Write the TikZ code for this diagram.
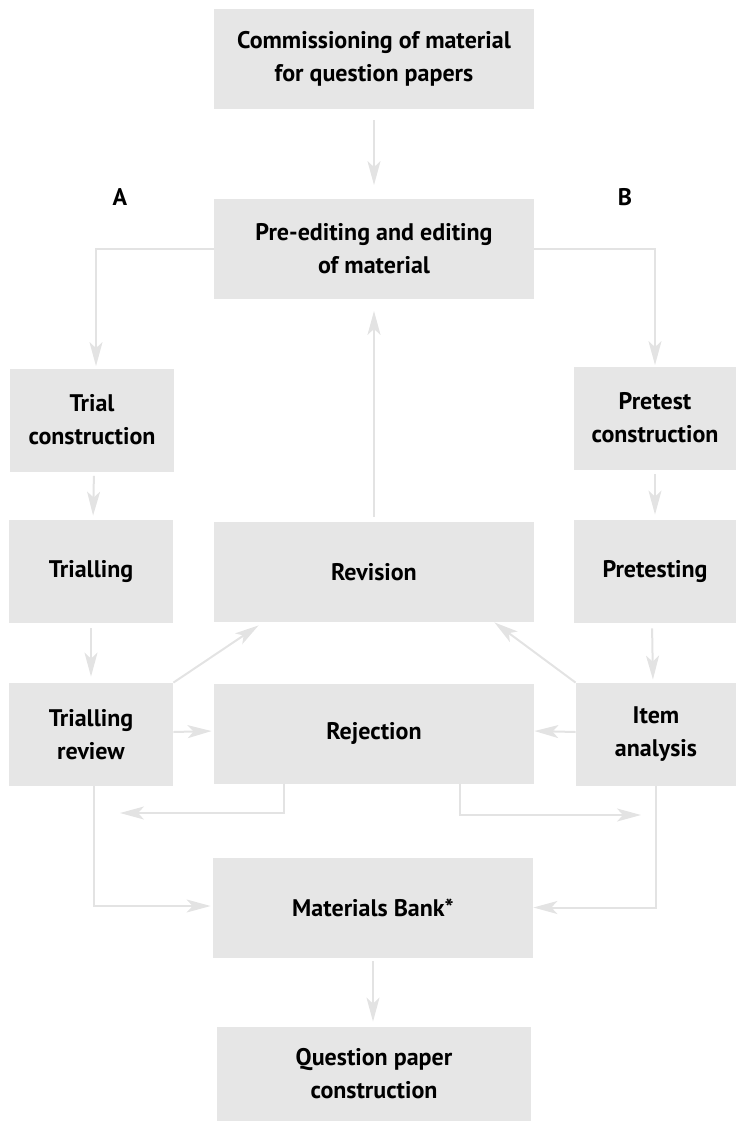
\documentclass[tikz,border=0pt]{standalone}
\usepackage{fontspec}
\setmainfont{PT Sans}
\usetikzlibrary{arrows.meta}
\definecolor{boxgray}{HTML}{E6E6E6}
\definecolor{linegray}{HTML}{E3E3E3}
\begin{document}
\begin{tikzpicture}[x=0.5pt,y=-0.5pt,
  box/.style={fill=boxgray, draw=none, align=center, inner sep=0pt,
    font=\bfseries\fontsize{12}{16.5}\selectfont},
  cbox/.style={box, minimum width=160pt, minimum height=50pt},
  sbox/.style={box, minimum width=82pt, minimum height=51.5pt},
  arr/.style={draw=linegray, line width=1pt,
    -{Stealth[length=12pt,width=6.5pt,inset=3pt]}},
  lab/.style={font=\bfseries\fontsize{12}{14}\selectfont, inner sep=0pt}]
\useasboundingbox (0,0) rectangle (736,1121);
% boxes
\node[cbox] (comm) at (374,59) {Commissioning of material\\for question papers};
\node[cbox] (pre) at (374,248.5) {Pre-editing and editing\\of material};
\node[sbox] (trial) at (92,420) {Trial\\construction};
\node[sbox, minimum width=81pt] (pretest) at (655,418) {Pretest\\construction};
\node[sbox] (trialling) at (91,571.5) {Trialling};
\node[cbox] (revision) at (374,572) {Revision};
\node[sbox, minimum width=81pt] (pretesting) at (655,571.5) {Pretesting};
\node[sbox] (review) at (91,734.5) {Trialling\\review};
\node[cbox] (rejection) at (374,733.5) {Rejection};
\node[sbox, minimum width=80pt] (item) at (656,734.5) {Item\\analysis};
\node[cbox] (bank) at (373,907.5) {Materials Bank*};
\node[cbox, minimum width=157pt, minimum height=47pt] (qp) at (374,1074) {Question paper\\construction};
% labels
\node[lab] (A) at (120,197) {A};
\node[lab] (B) at (625,197) {B};
% free ends
\coordinate (rejL) at (120,813);
\coordinate (rejR) at (641,815);
% connectors
\draw[arr, shorten <=5.5pt, shorten >=6.5pt] (comm) -- (pre);
\draw[arr, shorten >=1pt] (pre.west) -| ([xshift=2pt]trial.north);
\draw[arr, shorten >=0.5pt] (pre.east) -| (pretest.north);
\draw[arr, shorten <=2pt, shorten >=2pt] ([xshift=1pt]trial.south) -- ([xshift=1pt]trialling.north);
\draw[arr, shorten <=2pt, shorten >=2.5pt] (pretest) -- (pretesting);
\draw[arr, shorten <=2.5pt, shorten >=6pt] (revision) -- (pre);
\draw[arr, shorten <=2.5pt, shorten >=3pt] (trialling) -- (review);
\draw[arr, shorten <=2.5pt, shorten >=1.5pt] ([xshift=-1.5pt]pretesting.south) -- ([xshift=-1.5pt]item.north);
\draw[arr] (review.north east) -- ([xshift=22.5pt,yshift=-1.5pt]revision.south west);
\draw[arr] (item.north west) -- ([xshift=-20pt]revision.south east);
\draw[arr, shorten >=1pt] ([yshift=1.25pt]review.east) -- ([yshift=1.25pt]rejection.west);
\draw[arr] ([yshift=1.25pt]item.west) -- ([yshift=1.25pt]rejection.east);
\draw[arr] ([xshift=-45pt]rejection.south) |- (rejL);
\draw[arr] ([xshift=43pt]rejection.south) |- (rejR);
\draw[arr, shorten >=1pt] ([xshift=1.5pt]review.south) |- ([yshift=0.75pt]bank.west);
\draw[arr] (item.south) |- (bank.east);
\draw[arr, shorten <=1.5pt, shorten >=2.5pt] (bank.south) -- (bank.south |- qp.north);
\end{tikzpicture}
\end{document}
